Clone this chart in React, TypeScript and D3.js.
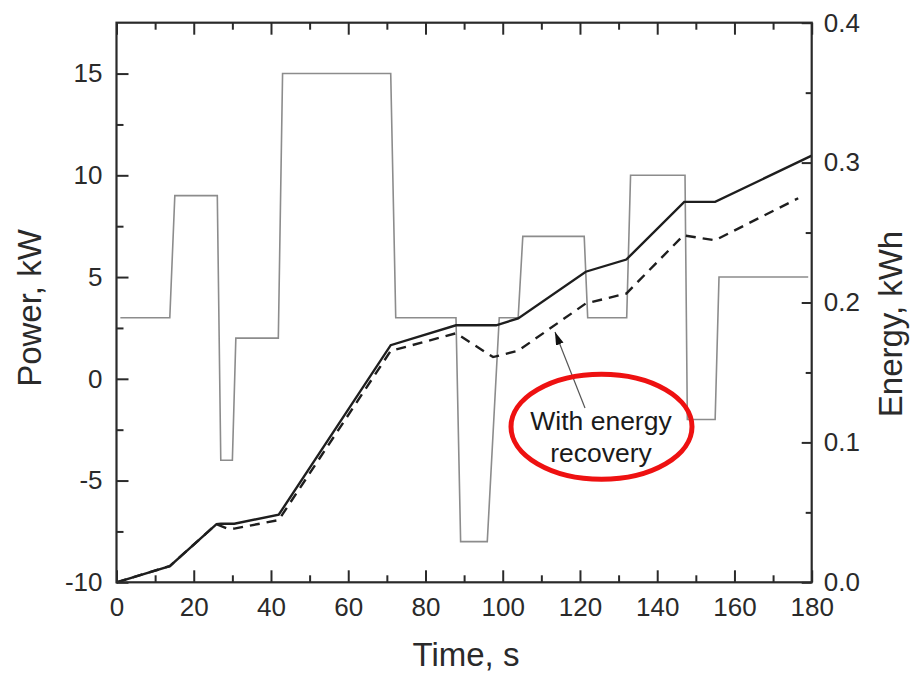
import React, { useEffect, useRef } from 'react';
import * as d3 from 'd3';

// ---- data ----
const timeTicks = [0, 20, 40, 60, 80, 100, 120, 140, 160, 180];
const timeMinorTicks = [10, 30, 50, 70, 90, 110, 130, 150, 170];
const powerTicks = [-10, -5, 0, 5, 10, 15];
const powerMinorTicks = [-7.5, -2.5, 2.5, 7.5, 12.5];
const energyTicks = [0, 0.1, 0.2, 0.3, 0.4];
const energyMinorTicks = [0.05, 0.15, 0.25, 0.35];

// power demand, kW (thin gray step line)
const powerTime = [1, 13.8, 15.1, 26.1, 27, 30, 30.9, 41.9, 43, 71, 72.3, 87.9, 89.1, 96, 99.1, 104, 105.2, 121.1, 122, 132.1, 133.1, 147.2, 147.8, 155, 156, 179.1];
const powerKW = [3, 3, 9, 9, -4, -4, 2, 2, 15, 15, 3, 3, -8, -8, 3, 3, 7, 7, 3, 3, 10, 10, -2, -2, 5, 5];

// energy without recovery, kWh (solid)
const energyTime = [0, 13.8, 25.9, 27, 30.5, 42, 71, 87.9, 98.3, 104, 121.5, 132, 147, 155, 180];
const energyNoRecovery = [0, 0.0116, 0.0416, 0.0418, 0.0419, 0.0483, 0.1695, 0.1837, 0.1837, 0.1886, 0.222, 0.2307, 0.2719, 0.2719, 0.305];

// energy with recovery, kWh (dashed)
const recoveryTime = [0, 13.8, 25.9, 28.5, 30.5, 42, 71, 87.9, 97.5, 104, 121.5, 132, 146.8, 155, 176.5];
const energyRecovery = [0, 0.0116, 0.0416, 0.0386, 0.0384, 0.0445, 0.1654, 0.178, 0.161, 0.1655, 0.1993, 0.2064, 0.248, 0.2445, 0.2745];

const W = 910;
const H = 674;
const L = 116.5;
const R = 811.7;
const T = 22.7;
const B = 582.3;
const FONT = "'Liberation Sans', Arial, Helvetica, sans-serif";
const INK = '#2a2a2a';

export default function App() {
  const bottomRef = useRef<SVGGElement>(null);
  const bottomMinorRef = useRef<SVGGElement>(null);
  const topRef = useRef<SVGGElement>(null);
  const topMinorRef = useRef<SVGGElement>(null);
  const leftRef = useRef<SVGGElement>(null);
  const leftMinorRef = useRef<SVGGElement>(null);
  const rightRef = useRef<SVGGElement>(null);
  const rightMinorRef = useRef<SVGGElement>(null);

  const x = d3.scaleLinear().domain([0, 180]).range([L, R]);
  const yP = d3.scaleLinear().domain([-10, 17.5]).range([B, T]);
  const yE = d3.scaleLinear().domain([0, 0.4]).range([B, T]);

  const powerData = powerTime.map((t, i) => [t, powerKW[i]] as [number, number]);
  const solidData = energyTime.map((t, i) => [t, energyNoRecovery[i]] as [number, number]);
  const dashData = recoveryTime.map((t, i) => [t, energyRecovery[i]] as [number, number]);

  const powerLine = d3.line<[number, number]>().x(d => x(d[0])).y(d => yP(d[1]));
  const energyLine = d3.line<[number, number]>().x(d => x(d[0])).y(d => yE(d[1]));

  useEffect(() => {
    const style = (sel: any, labels: boolean) => {
      sel.select('.domain').remove();
      sel.attr('font-family', FONT).attr('font-size', 26).attr('color', INK);
      sel.selectAll('line').attr('stroke-width', 2);
      if (labels) sel.selectAll('text').attr('fill', INK);
    };
    const fmtInt = (d: any) => String(d);
    const fmtE = (d: any) => (+d).toFixed(1);

    style(d3.select(bottomRef.current!).call(
      d3.axisBottom(x).tickValues(timeTicks).tickSize(-12).tickPadding(15).tickFormat(fmtInt)
    ), true);
    style(d3.select(bottomMinorRef.current!).call(
      d3.axisBottom(x).tickValues(timeMinorTicks).tickSize(-7).tickFormat(() => '')
    ), false);
    style(d3.select(topRef.current!).call(
      d3.axisTop(x).tickValues(timeTicks).tickSize(-12).tickFormat(() => '')
    ), false);
    style(d3.select(topMinorRef.current!).call(
      d3.axisTop(x).tickValues(timeMinorTicks).tickSize(-7).tickFormat(() => '')
    ), false);
    style(d3.select(leftRef.current!).call(
      d3.axisLeft(yP).tickValues(powerTicks).tickSize(-12).tickPadding(14).tickFormat(fmtInt)
    ), true);
    style(d3.select(leftMinorRef.current!).call(
      d3.axisLeft(yP).tickValues(powerMinorTicks).tickSize(-7).tickFormat(() => '')
    ), false);
    style(d3.select(rightRef.current!).call(
      d3.axisRight(yE).tickValues(energyTicks).tickSize(-10).tickPadding(12).tickFormat(fmtE)
    ), true);
    style(d3.select(rightMinorRef.current!).call(
      d3.axisRight(yE).tickValues(energyMinorTicks).tickSize(-6).tickFormat(() => '')
    ), false);
  }, []);

  return (
    <svg width={W} height={H} style={{ position: 'absolute', left: 0, top: 0, background: '#fff' }}>
      <defs>
        <marker id="arrowHead" markerUnits="userSpaceOnUse" markerWidth={14} markerHeight={10}
          refX={13} refY={4} orient="auto">
          <path d="M0,0 L13,4 L0,8 Z" fill="#111" />
        </marker>
      </defs>
      <rect x={0} y={0} width={W} height={H} fill="#fff" />

      {/* data lines */}
      <path d={powerLine(powerData) ?? ''} fill="none" stroke="#8c8c8c" strokeWidth={1.6} />
      <path d={energyLine(solidData) ?? ''} fill="none" stroke="#1e1e1e" strokeWidth={2.4} />
      <path d={energyLine(dashData) ?? ''} fill="none" stroke="#1e1e1e" strokeWidth={2.4} strokeDasharray="10,7" />

      {/* axes */}
      <g ref={bottomRef} transform={`translate(0,${B})`} />
      <g ref={bottomMinorRef} transform={`translate(0,${B})`} />
      <g ref={topRef} transform={`translate(0,${T})`} />
      <g ref={topMinorRef} transform={`translate(0,${T})`} />
      <g ref={leftRef} transform={`translate(${L},0)`} />
      <g ref={leftMinorRef} transform={`translate(${L},0)`} />
      <g ref={rightRef} transform={`translate(${R},0)`} />
      <g ref={rightMinorRef} transform={`translate(${R},0)`} />
      <rect x={L} y={T} width={R - L} height={B - T} fill="none" stroke={INK} strokeWidth={2.2} />

      {/* axis titles */}
      <text x={466} y={666} textAnchor="middle" fontFamily={FONT} fontSize={33} fill={INK}>Time, s</text>
      <text transform={`translate(41,308) rotate(-90)`} textAnchor="middle" fontFamily={FONT} fontSize={33} fill={INK}>Power, kW</text>
      <text transform={`translate(902,324) rotate(-90)`} textAnchor="middle" fontFamily={FONT} fontSize={33} fill={INK}>Energy, kWh</text>

      {/* annotation */}
      <line x1={585} y1={408} x2={555} y2={332} stroke="#555" strokeWidth={1.2} markerEnd="url(#arrowHead)" />
      <ellipse cx={601.5} cy={426.7} rx={90.5} ry={52.5} fill="none" stroke="#ee1111" strokeWidth={5} />
      <text x={601} y={430} textAnchor="middle" fontFamily={FONT} fontSize={26.5} fill="#1a1a1a">With energy</text>
      <text x={601} y={461.5} textAnchor="middle" fontFamily={FONT} fontSize={26.5} fill="#1a1a1a">recovery</text>
    </svg>
  );
}
